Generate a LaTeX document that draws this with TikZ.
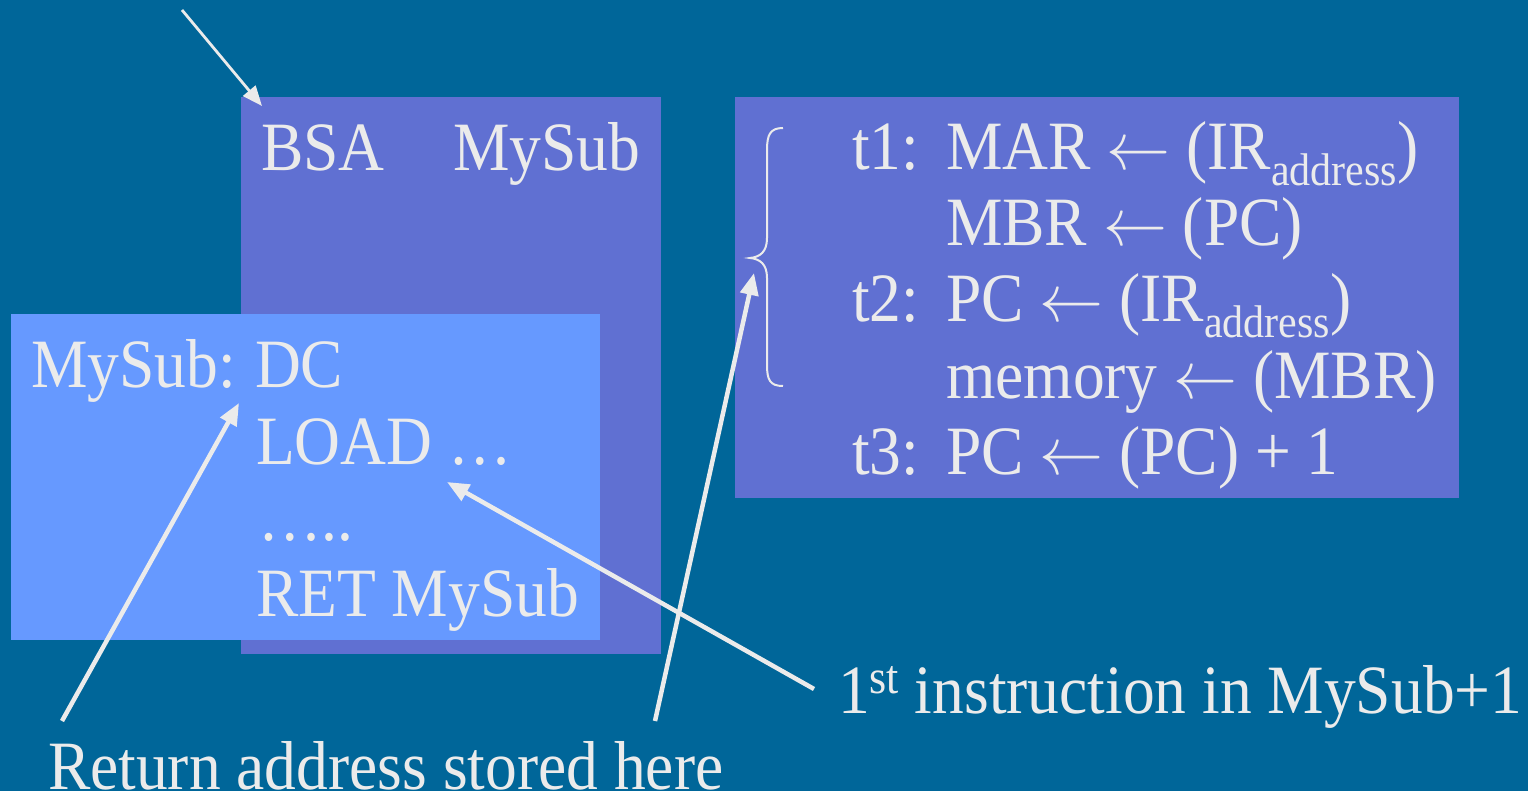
\documentclass[tikz,border=0pt]{standalone}
\usepackage{fontspec}
\setmainfont{Liberation Serif}
\usetikzlibrary{arrows.meta}
\definecolor{bgc}{RGB}{0,102,153}
\definecolor{boxc}{RGB}{96,112,210}
\definecolor{lightc}{RGB}{102,153,255}
\definecolor{txtc}{RGB}{235,235,235}
\newcommand\vs[1]{\scalebox{1}[1.09]{#1}}
\newcommand\subaddr{\raisebox{-14.5pt}{\fontsize{42}{42}\selectfont address}}
\newcommand\supst{\raisebox{17.5pt}{\fontsize{44}{44}\selectfont st}}
\newcommand\larr{\scalebox{6.4}[6.2]{\normalsize$\leftarrow$}}
\begin{document}
\begin{tikzpicture}[x=1pt,y=-1pt,
  txt/.style={text=txtc, font=\fontsize{63.5}{76}\selectfont, inner sep=0pt, outer sep=0pt, anchor=base west},
  panel/.style={inner sep=0pt, outer sep=0pt, draw=none, anchor=north west},
  arr/.style={draw=txtc, fill=txtc, line width=4.5pt, -{Triangle[length=22pt,width=18pt]}},
  thinarr/.style={draw=txtc, fill=txtc, line width=2.8pt, -{Triangle[length=20pt,width=16pt]}},
  bracec/.style={draw=txtc, line width=2pt}]
\useasboundingbox (0,0) rectangle (1528,791);
\fill[bgc] (0,0) rectangle (1528,791);
% panels
\node[panel, fill=boxc, minimum width=420pt, minimum height=557pt] (bsabox) at (241,97) {};
\node[panel, fill=boxc, minimum width=724pt, minimum height=401pt] (rtlbox) at (735,97) {};
\node[panel, fill=lightc, minimum width=589pt, minimum height=326pt] (subbox) at (11,314) {};
% BSA line
\node[txt] (bsa) at (261,171) {\vs{BSA}};
\node[txt] (bsaop) at (453,171) {\vs{MySub}};
% subroutine
\node[txt] (sublbl) at (31,387) {\vs{MySub:}};
\node[txt] (dc) at (255,387) {\vs{DC}};
\node[txt] (load) at (256,464) {\vs{LOAD …}};
\node[txt] (dots) at (258,540) {\vs{…..}};
\node[txt] (ret) at (256,616) {\vs{RET MySub}};
% RTL
\node[txt] (t1) at (852,170) {\vs{t1:}};
\node[txt] (r1) at (946,170) {\vs{MAR \larr{} (IR\subaddr)}};
\node[txt] (r2) at (946,246) {\vs{MBR \larr{} (PC)}};
\node[txt] (t2) at (852,322) {\vs{t2:}};
\node[txt] (r3) at (946,322) {\vs{PC \larr{} (IR\subaddr)}};
\node[txt] (r4) at (946,398) {\vs{memory \larr{} (MBR)}};
\node[txt] (t3) at (852,474) {\vs{t3:}};
\node[txt] (r5) at (946,474) {\vs{PC \larr{} (PC) + 1}};
% brace
\draw[bracec] (783,128) .. controls (770,128) and (767,135) .. (767,150)
  -- (767,238) .. controls (767,252) and (760,257) .. (750,258)
  .. controls (760,259) and (767,264) .. (767,278)
  -- (767,365) .. controls (767,380) and (770,386) .. (783,386);
% labels
\node[txt] (retlbl) at (48,789) {\vs{Return address stored here}};
\node[txt] (instlbl) at (838,713) {\vs{1\supst{} instruction in MySub+1}};
% arrow endpoints
\coordinate (topA) at (182,10);
\coordinate (topB) at (262,106);
\coordinate (retA) at (62,721);
\coordinate (retB) at (239,403);
\coordinate (brA) at (655,721);
\coordinate (brB) at (754,273);
\coordinate (insA) at (814,689);
\coordinate (insB) at (447,482);
\draw[thinarr] (topA) -- (topB);
\draw[arr] (retA) -- (retB);
\draw[arr] (brA) -- (brB);
\draw[arr] (insA) -- (insB);
\end{tikzpicture}
\end{document}
